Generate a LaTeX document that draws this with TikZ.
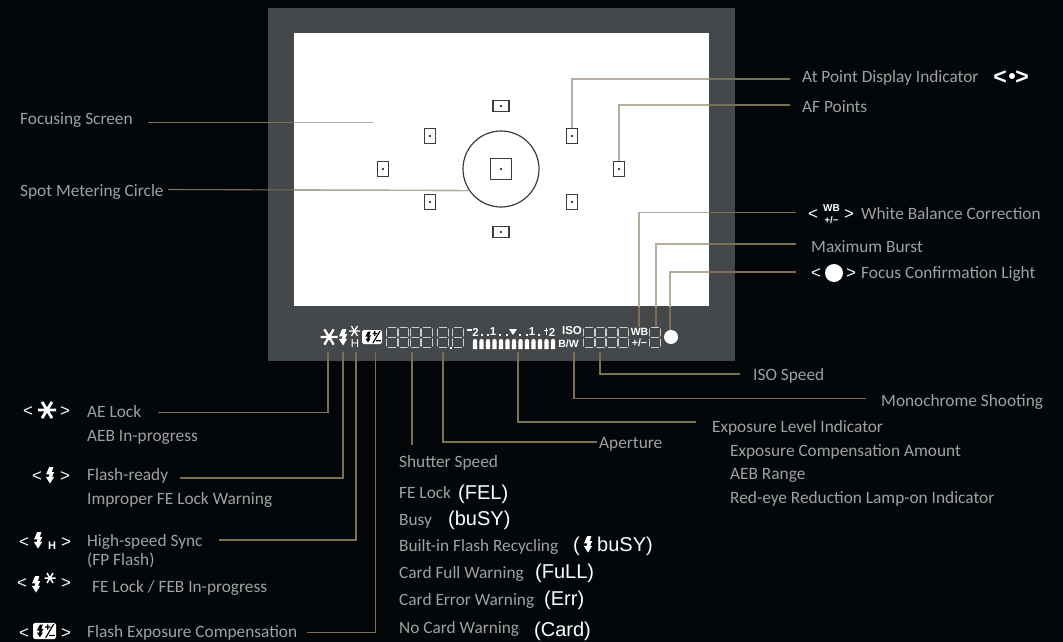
\documentclass[tikz,border=0pt]{standalone}
\usepackage{fontspec}
\setmainfont{Carlito}
\newfontfamily\arialf{Liberation Sans}
\definecolor{bgk}{HTML}{04070A}
\definecolor{framegray}{HTML}{45484A}
\definecolor{gold}{HTML}{7C6F54}
\definecolor{goldlight}{HTML}{B5AD9C}
\definecolor{txt}{HTML}{A0A0A0}
\definecolor{af}{HTML}{3C3C3C}
\tikzset{
  lab/.style={anchor=base west,inner sep=0pt,text=txt,font=\fontsize{17.3}{18}\selectfont},
  ari/.style={anchor=base west,inner sep=0pt,text=white,font=\arialf\fontsize{20}{20}\selectfont},
  angle/.style={anchor=center,inner sep=0pt,text=white,font=\arialf\fontsize{17}{18}\selectfont},
  conn/.style={draw=gold,line width=1.1pt},
  connw/.style={draw=goldlight,line width=1.1pt},
  afv/.style={draw=af,line width=1.3pt,fill=white,minimum width=11pt,minimum height=15pt,inner sep=0pt},
  afh/.style={draw=af,line width=1.3pt,fill=white,minimum width=16pt,minimum height=11pt,inner sep=0pt},
  lcdtext/.style={anchor=center,inner sep=0pt,text=white,font=\arialf\bfseries\fontsize{10.5}{11}\selectfont},
  pics/boltic/.style={code={\fill[white] (-.8,-8)--(3.4,-8)--(1.8,-2.8)--(4.2,-2.8)--(2,1.8)--(4.2,1.8)--(0,8.5)--(-4.2,1.8)--(-1.2,1.8)--(-.6,-.6)--(-4,-.6)--cycle;}},
  pics/staric/.style={code={\draw[white,line width=#1] (-1,0)--(1,0) (-.55,-.9)--(.55,.9) (.55,-.9)--(-.55,.9);}},
  pics/lcdic/.style={code={\draw[white!80!black,line width=.85pt,line cap=round]
     (-3.6,-10)--(3.6,-10) (-3.6,0)--(3.6,0) (-3.6,10)--(3.6,10)
     (-5.2,-8.6)--(-5.2,-1.4) (5.2,-8.6)--(5.2,-1.4) (-5.2,1.4)--(-5.2,8.6) (5.2,1.4)--(5.2,8.6);}},
  pics/bullet/.style={code={\fill[white] (-2.1,7)--(-2.1,-1) arc[start angle=180,end angle=360,radius=2.1]--(2.1,7)--cycle;}},
  pics/fecic/.style={code={
     \fill[white,rounded corners=1.6pt] (-10,-7)rectangle(10,7);
     \fill[bgk] (-4,-5.5)--(-1.5,-5.5)--(-2.6,-1.7)--(-.8,-1.7)--(-2.8,1.5)--(-1.4,1.5)--(-4,5.5)--(-6.5,1.5)--(-4.7,1.5)--(-4.3,-.4)--(-6.6,-.4)--cycle;
     \draw[bgk,line width=1.2pt] (.5,-3.5)--(5,-3.5) (2.75,-5.8)--(2.75,-1.2) (8,-6)--(1,6) (4,3.8)--(9,3.8);}},
}
\begin{document}
\begin{tikzpicture}[x=1pt,y=-1pt]
\useasboundingbox (0,0) rectangle (1063,642);
\fill[bgk] (0,0) rectangle (1063,642);
\fill[framegray] (268,8) rectangle (735,361);
\fill[white] (294,33) rectangle (709,306);

% spot circle and AF points
\node[circle,draw=af,line width=1.2pt,minimum size=76pt,inner sep=0pt] (spot) at (501,169) {};
\node[draw=af,line width=1.3pt,minimum size=21pt,inner sep=0pt] (afC) at (501,169) {};
\node[afh] (afT) at (501,106) {};
\node[afh] (afB) at (501,232) {};
\node[afv] (afUL) at (430,136) {};
\node[afv] (afL) at (383,169) {};
\node[afv] (afLL) at (430,202) {};
\node[afv] (afUR) at (572,136) {};
\node[afv] (afR) at (619,169) {};
\node[afv] (afLR) at (572,202) {};
\foreach \n in {afC,afT,afB,afUL,afL,afLL,afUR,afR,afLR} \fill[black] (\n.center) circle (1.1pt);

% named connector ends
\coordinate (cFocA) at (148,122.5); \coordinate (cFocB) at (373,122.5);
\coordinate (cSpotA) at (168,189.5);
\coordinate (cAtA) at (790,79); \coordinate (cAfA) at (790,105);
\coordinate (cWbA) at (796,212.5); \coordinate (cWbB) at (639,327);
\coordinate (cMbA) at (796,244); \coordinate (cMbB) at (656,327);
\coordinate (cFcA) at (796,272); \coordinate (cFcB) at (670,331);
\coordinate (cIsoA) at (740,374); \coordinate (cIsoB) at (600,352);
\coordinate (cMoA) at (866,398.5); \coordinate (cMoB) at (574,352);
\coordinate (cExA) at (696,422); \coordinate (cExB) at (518,352);
\coordinate (cApA) at (597,442); \coordinate (cApB) at (443,352);
\coordinate (cShA) at (412,445); \coordinate (cShB) at (412,352);
\coordinate (cAeA) at (158,412.5); \coordinate (cAeB) at (328,352);
\coordinate (cFlA) at (180,478); \coordinate (cFlB) at (343,352);
\coordinate (cHsA) at (219,540); \coordinate (cHsB) at (356,352);
\coordinate (cFeA) at (307,632.5); \coordinate (cFeB) at (375.5,352);

\newcommand{\upperconns}[1]{%
  \draw[#1] (cFocA)--(cFocB);
  \draw[#1] (cSpotA)--(spot.214);
  \draw[#1] (cAtA) -| (afUR.north);
  \draw[#1] (cAfA) -| (afR.north);
  \draw[#1] (cWbA) -| (cWbB);
  \draw[#1] (cMbA) -| (cMbB);
  \draw[#1] (cFcA) -| (cFcB);
}
\upperconns{conn}
\begin{scope}
  \clip (294,33) rectangle (709,306);
  \upperconns{connw}
\end{scope}
\draw[conn] (cIsoA) -| (cIsoB);
\draw[conn] (cMoA) -| (cMoB);
\draw[conn] (cExA) -| (cExB);
\draw[conn] (cApA) -| (cApB);
\draw[conn] (cShA) -- (cShB);
\draw[conn] (cAeA) -| (cAeB);
\draw[conn] (cFlA) -| (cFlB);
\draw[conn] (cHsA) -| (cHsB);
\draw[conn] (cFeA) -| (cFeB);

% LCD strip
\pic[scale=8.5] at (329,337) {staric=2.3pt};
\pic at (343,337) {boltic};
\pic[scale=5.5] at (354.5,331) {staric=1.3pt};
\node[lcdtext,font=\arialf\fontsize{11.5}{11}\selectfont] (stH) at (355,344) {H};
\pic at (372,337) {fecic};
\foreach \x in {392,403.7,415.4,427,443,458} \pic at (\x,337.5) {lcdic};
\fill[white] (450,347) rectangle (451.5,348.5);
\node[lcdtext,font=\arialf\bfseries\fontsize{11.5}{11}\selectfont] (s2a) at (475.5,332) {2};
\node[lcdtext,font=\arialf\bfseries\fontsize{11.5}{11}\selectfont] (s1a) at (493,332) {1};
\node[lcdtext,font=\arialf\bfseries\fontsize{11.5}{11}\selectfont] (s1b) at (532,332) {1};
\node[lcdtext,font=\arialf\bfseries\fontsize{11.5}{11}\selectfont] (s2b) at (552,332) {2};
\fill[white] (467,329) rectangle (472,330.5);
\fill[white] (509,329)--(517,329)--(513,335)--cycle;
\fill[white] (545.5,328) rectangle (546.5,335);
\fill[white] (544,330) rectangle (548,331);
\foreach \x in {481,487,499,506,519,526,538} \fill[white] (\x,333.5) rectangle +(2,2);
\foreach \i in {0,...,12} \pic at (475+\i*6.5,342) {bullet};
\node[lcdtext,font=\arialf\bfseries\fontsize{11.5}{11}\selectfont] (sIso) at (572,331) {ISO};
\node[lcdtext,font=\arialf\bfseries\fontsize{10.5}{11}\selectfont] (sBw) at (568.5,344) {B/W};
\foreach \x in {589,600.5,612,623.5,655} \pic at (\x,337.5) {lcdic};
\node[lcdtext] (sWb) at (639.5,332) {WB};
\node[lcdtext] (sPm) at (639.5,342.5) {+/−};
\node[circle,fill=white,minimum size=14pt,inner sep=0pt] (sDot) at (671,337) {};

% left column
\node[lab] (tFoc) at (20,124) {Focusing Screen};
\node[lab] (tSpot) at (20,196) {Spot Metering Circle};
\node[lab] (tAe) at (87,417) {AE Lock};
\node[lab] (tAeb) at (87,441) {AEB In-progress};
\node[lab] (tFl) at (87,480) {Flash-ready};
\node[lab] (tImp) at (87,504) {Improper FE Lock Warning};
\node[lab] (tHs) at (87,546) {High-speed Sync};
\node[lab] (tFp) at (87,565) {(FP Flash)};
\node[lab] (tFe) at (92,592) {FE Lock / FEB In-progress};
\node[lab] (tFec) at (87,637) {Flash Exposure Compensation};

\node[angle] (l1a) at (28,411.5) {<};
\pic[scale=9] at (47,410) {staric=2.8pt};
\node[angle] (l1b) at (65,411.5) {>};
\node[angle] (l2a) at (37,476.5) {<};
\pic at (50,475) {boltic};
\node[angle] (l2b) at (65,476.5) {>};
\node[angle] (l3a) at (24,542.5) {<};
\pic at (38,540) {boltic};
\node[angle,font=\arialf\bfseries\fontsize{11}{11}\selectfont] (l3h) at (52,546) {H};
\node[angle] (l3b) at (66,542.5) {>};
\node[angle] (l4a) at (22,583.5) {<};
\pic at (36,584) {boltic};
\pic[scale=5.5] at (50,578) {staric=1.5pt};
\node[angle] (l4b) at (66,583.5) {>};
\node[angle] (l5a) at (24,633.5) {<};
\pic[scale=1.15] at (44.5,631) {fecic};
\node[angle] (l5b) at (66,633.5) {>};

% middle column
\node[lab] (tSh) at (399,467) {Shutter Speed};
\node[lab] (tFel) at (399,498) {FE Lock}; \node[ari] (aFel) at (458,499) {(FEL)};
\node[lab] (tBu) at (399,525) {Busy}; \node[ari] (aBu) at (448,525) {(buSY)};
\node[lab] (tBi) at (399,551) {Built-in Flash Recycling};
\node[ari] (aBi1) at (573,551) {(};
\pic at (588,544) {boltic};
\node[ari] (aBi2) at (597,551) {buSY)};
\node[lab] (tFu) at (399,578) {Card Full Warning}; \node[ari] (aFu) at (535,578) {(FuLL)};
\node[lab] (tEr) at (399,605) {Card Error Warning}; \node[ari] (aEr) at (544,605) {(Err)};
\node[lab] (tNo) at (399,633) {No Card Warning}; \node[ari] (aNo) at (534,636) {(Card)};

% right side
\node[lab] (tAt) at (802,83) {At Point Display Indicator};
\node[angle,font=\arialf\bfseries\fontsize{23}{23}\selectfont] (atL) at (1000,78) {<};
\fill[white] (1012,76) circle (3pt);
\node[angle,font=\arialf\bfseries\fontsize{23}{23}\selectfont] (atR) at (1022,78) {>};
\node[lab] (tAf) at (802,112) {AF Points};
\node[angle] (wbL) at (813,215) {<};
\node[lcdtext,font=\arialf\bfseries\fontsize{10}{10}\selectfont] (wbW) at (831.5,208.5) {WB};
\node[lcdtext,font=\arialf\bfseries\fontsize{9.5}{8}\selectfont] (wbP) at (831.5,220.5) {+/−};
\node[angle] (wbR) at (849,215) {>};
\node[lab] (tWb) at (861,219) {White Balance Correction};
\node[lab] (tMb) at (811,252) {Maximum Burst};
\node[angle] (fcL) at (816,274) {<};
\node[circle,fill=white,minimum size=18pt,inner sep=0pt] (fcD) at (834,273) {};
\node[angle] (fcR) at (851,274) {>};
\node[lab] (tFc) at (861,278) {Focus Confirmation Light};
\node[lab] (tIso) at (753,380) {ISO Speed};
\node[lab] (tMo) at (881,406) {Monochrome Shooting};
\node[lab] (tEx) at (712,432.5) {Exposure Level Indicator};
\node[lab] (tExc) at (730,456) {Exposure Compensation Amount};
\node[lab] (tAr) at (730,479) {AEB Range};
\node[lab] (tRe) at (730,503) {Red-eye Reduction Lamp-on Indicator};
\node[lab] (tAp) at (599,448) {Aperture};
\end{tikzpicture}
\end{document}
